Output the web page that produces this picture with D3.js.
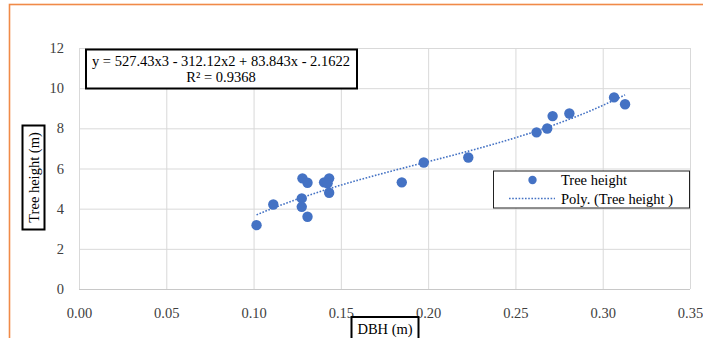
<!DOCTYPE html>
<html>
<head>
<meta charset="utf-8">
<script src="https://cdn.jsdelivr.net/npm/d3@7"></script>
<style>
  body { margin: 0; background: #fff; }
  text { font-family: "Liberation Serif", "Times New Roman", serif; }
</style>
</head>
<body>
<div id="chart"></div>
<script>
// Chart data
var dbh = [0.1017, 0.1113, 0.1280, 0.1309, 0.1276, 0.1276, 0.1309, 0.1404, 0.1433, 0.1424,
           0.1433, 0.1849, 0.1975, 0.2230, 0.2621, 0.2682, 0.2713, 0.2809, 0.3065, 0.3128];
var treeHeight = [3.18, 4.21, 5.51, 5.29, 4.51, 4.09, 3.60, 5.31, 5.51, 5.26,
                  4.79, 5.31, 6.30, 6.55, 7.80, 7.99, 8.61, 8.74, 9.54, 9.20];
// trendline coefficients, x^3 .. x^0, as printed in the chart
var polyCoef = [527.43, -312.12, 83.843, -2.1622];
var xTicks = [0, 0.05, 0.10, 0.15, 0.20, 0.25, 0.30, 0.35];
var yTicks = [0, 2, 4, 6, 8, 10, 12];

var svgWidth = 703;
var svgHeight = 338;

var plot = { left: 79, right: 690, top: 48, bottom: 289 };
var blue = "#4472C4";

var svg = d3.select("#chart")
    .append("svg")
    .attr("width", svgWidth)
    .attr("height", svgHeight);

svg.append("rect")
    .attr("width", svgWidth)
    .attr("height", svgHeight)
    .attr("fill", "#fff");

// orange frame of the chart object
svg.append("rect")
    .attr("x", 9.5)
    .attr("y", 4.5)
    .attr("width", 900)
    .attr("height", 500)
    .attr("fill", "none")
    .attr("stroke", "#F08A48")
    .attr("stroke-width", 1.6);

var x = d3.scaleLinear().domain([0, 0.35]).range([plot.left, plot.right]);
var y = d3.scaleLinear().domain([0, 12]).range([plot.bottom, plot.top]);

// Y axis with gridlines
var yAxis = svg.append("g")
    .attr("transform", `translate(${plot.left}, 0)`)
    .call(d3.axisLeft(y)
        .tickValues(yTicks)
        .tickSize(-(plot.right - plot.left))
        .tickPadding(15)
        .tickFormat(d3.format("d")));

// X axis with gridlines
var xAxis = svg.append("g")
    .attr("transform", `translate(0, ${plot.bottom})`)
    .call(d3.axisBottom(x)
        .tickValues(xTicks)
        .tickSize(-(plot.bottom - plot.top))
        .tickPadding(19)
        .tickFormat(d3.format(".2f")));

[xAxis, yAxis].forEach(function (ax) {
    ax.select(".domain").remove();
    ax.selectAll(".tick line").attr("stroke", "#d9d9d9").attr("stroke-width", 1);
    ax.selectAll(".tick text")
        .attr("fill", "#404040")
        .style("font-family", "'Liberation Serif', serif")
        .style("font-size", "14.5px");
});

// bottom axis line
svg.append("line")
    .attr("x1", plot.left).attr("x2", plot.right)
    .attr("y1", plot.bottom + 0.5).attr("y2", plot.bottom + 0.5)
    .attr("stroke", "#c8c8c8");

// Polynomial trendline
function poly(v) {
    return polyCoef[0] * v * v * v + polyCoef[1] * v * v + polyCoef[2] * v + polyCoef[3];
}
var xMin = d3.min(dbh), xMax = d3.max(dbh);
var curveX = d3.range(xMin, xMax, (xMax - xMin) / 80).concat([xMax]);

svg.append("path")
    .datum(curveX)
    .attr("d", d3.line().x(d => x(d)).y(d => y(poly(d))))
    .attr("fill", "none")
    .attr("stroke", blue)
    .attr("stroke-width", 1.6)
    .attr("stroke-dasharray", "1.6,1.6");

// Points
svg.append("g")
    .selectAll("circle")
    .data(dbh)
    .enter()
    .append("circle")
    .attr("cx", d => x(d))
    .attr("cy", (d, i) => y(treeHeight[i]))
    .attr("r", 5.2)
    .attr("fill", blue);

// Equation label
var eq = svg.append("g");
eq.append("rect")
    .attr("x", 86).attr("y", 49.5)
    .attr("width", 271).attr("height", 39)
    .attr("fill", "#fff")
    .attr("stroke", "#000")
    .attr("stroke-width", 2);
eq.append("text")
    .attr("x", 221).attr("y", 66)
    .attr("text-anchor", "middle")
    .style("font-size", "14.5px")
    .text("y = 527.43x3 - 312.12x2 + 83.843x - 2.1622");
eq.append("text")
    .attr("x", 221).attr("y", 82)
    .attr("text-anchor", "middle")
    .style("font-size", "14.5px")
    .text("R² = 0.9368");

// Legend
var legend = svg.append("g");
legend.append("rect")
    .attr("x", 493.5).attr("y", 171)
    .attr("width", 196).attr("height", 37)
    .attr("fill", "#fff")
    .attr("stroke", "#222")
    .attr("stroke-width", 1);
legend.append("circle")
    .attr("cx", 532.5).attr("cy", 180)
    .attr("r", 4.2)
    .attr("fill", blue);
legend.append("text")
    .attr("x", 561).attr("y", 185)
    .style("font-size", "14.5px")
    .text("Tree height");
legend.append("line")
    .attr("x1", 509).attr("x2", 555)
    .attr("y1", 198.5).attr("y2", 198.5)
    .attr("stroke", blue)
    .attr("stroke-width", 1.6)
    .attr("stroke-dasharray", "1.6,1.6");
legend.append("text")
    .attr("x", 561).attr("y", 204)
    .style("font-size", "14.5px")
    .text("Poly. (Tree height )");

// Y axis title
var yTitle = svg.append("g");
yTitle.append("rect")
    .attr("x", 22.5).attr("y", 125.5)
    .attr("width", 22).attr("height", 104)
    .attr("fill", "#fff")
    .attr("stroke", "#000")
    .attr("stroke-width", 2);
yTitle.append("text")
    .attr("transform", "translate(38.5, 177.5) rotate(-90)")
    .attr("text-anchor", "middle")
    .style("font-size", "14.5px")
    .text("Tree height (m)");

// X axis title
var xTitle = svg.append("g");
xTitle.append("rect")
    .attr("x", 351.5).attr("y", 317)
    .attr("width", 67).attr("height", 30)
    .attr("fill", "#fff")
    .attr("stroke", "#000")
    .attr("stroke-width", 2);
xTitle.append("text")
    .attr("x", 385).attr("y", 334)
    .attr("text-anchor", "middle")
    .style("font-size", "14.5px")
    .text("DBH (m)");
</script>
</body>
</html>
